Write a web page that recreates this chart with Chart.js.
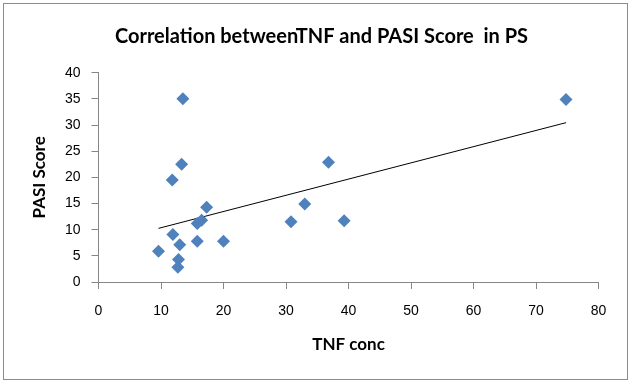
<!DOCTYPE html>
<html>
<head>
<meta charset="utf-8">
<script src="https://cdn.jsdelivr.net/npm/chart.js@4/dist/chart.umd.min.js"></script>
<style>
  body { margin: 0; background: #fff; }
</style>
</head>
<body>
<canvas id="myChart" width="634" height="385"></canvas>
<script>
// values
const tnfConc   = [13.5, 13.3, 11.8, 17.3, 16.5, 15.8, 11.9, 13.0, 15.8, 20.0, 9.6, 12.8, 12.7, 30.8, 33.0, 36.8, 39.3, 74.8];
const pasiScore = [35.0, 22.5, 19.5, 14.3, 11.8, 11.2,  9.1,  7.1,  7.8,  7.8, 5.9,  4.3,  2.8, 11.5, 14.9, 22.9, 11.7, 34.9];
// linear trendline end points as drawn in the picture
const trendX = [9.6, 74.8];
const trendY = [10.25, 30.45];
const xTicks = [0, 10, 20, 30, 40, 50, 60, 70, 80];
const yTicks = [0, 5, 10, 15, 20, 25, 30, 35, 40];

const axisGray = '#868686';

const frame = {
  id: 'frame',
  beforeDraw(chart){
    const c = chart.ctx;
    c.save();
    c.fillStyle = '#fff';
    c.fillRect(0, 0, chart.width, chart.height);
    c.strokeStyle = '#8c8c8c';
    c.lineWidth = 1;
    c.strokeRect(3.5, 3.5, 624, 376);
    c.restore();
  }
};

const ctx = document.getElementById('myChart').getContext('2d');
const myChart = new Chart(ctx, {
  type: 'scatter',
  data: {
    datasets: [{
      label: 'PASI',
      data: tnfConc.map((x, i) => ({x: x, y: pasiScore[i]})),
      pointStyle: 'rectRot',
      pointRadius: 6.5,
      pointHoverRadius: 6.5,
      backgroundColor: '#4F81BD',
      borderColor: '#4F81BD',
      borderWidth: 0
    }, {
      label: 'Trend',
      type: 'line',
      data: trendX.map((x, i) => ({x: x, y: trendY[i]})),
      borderColor: '#000',
      borderWidth: 1,
      pointRadius: 0,
      fill: false
    }]
  },
  options: {
    responsive: false,
    animation: false,
    layout: { padding: { left: 9, right: 0, top: 0, bottom: 0 } },
    plugins: {
      legend: { display: false },
      tooltip: { enabled: false },
      title: {
        display: true,
        text: 'Correlation betweenTNF and PASI Score  in PS',
        color: '#000',
        font: { family: 'Lato', size: 20, weight: 'bold' },
        padding: { top: 25, bottom: 23.7 }
      }
    },
    scales: {
      x: {
        type: 'linear',
        min: 0, max: 80,
        afterBuildTicks: s => { s.ticks = xTicks.map(v => ({value: v})); },
        afterFit: s => { s.height = 103; },
        grid: { drawOnChartArea: false, drawTicks: true, tickLength: 7, color: axisGray },
        border: { color: axisGray },
        ticks: { color: '#000', padding: 14, font: { family: 'Liberation Sans', size: 14 } },
        title: {
          display: true, text: 'TNF conc', color: '#000',
          font: { family: 'Lato', size: 17, weight: 'bold' },
          padding: { top: 0, bottom: 30 }
        }
      },
      y: {
        type: 'linear',
        min: 0, max: 40,
        afterBuildTicks: s => { s.ticks = yTicks.map(v => ({value: v})); },
        afterFit: s => { s.width = 89.5; },
        grid: { drawOnChartArea: false, drawTicks: true, tickLength: 7, color: axisGray },
        border: { color: axisGray },
        ticks: { color: '#000', padding: 11, font: { family: 'Liberation Sans', size: 14 } },
        title: {
          display: true, text: 'PASI Score', color: '#000',
          font: { family: 'Lato', size: 17, weight: 'bold' },
          padding: { top: 20.8, bottom: 0 }
        }
      },
      // empty right-hand axis, only reserves the space right of the plot
      yRight: {
        type: 'linear',
        position: 'right',
        display: true,
        min: 0, max: 40,
        afterFit: s => { s.width = 35.5; },
        grid: { display: false },
        border: { display: false },
        ticks: { display: false }
      }
    }
  },
  plugins: [frame]
});
</script>
</body>
</html>
